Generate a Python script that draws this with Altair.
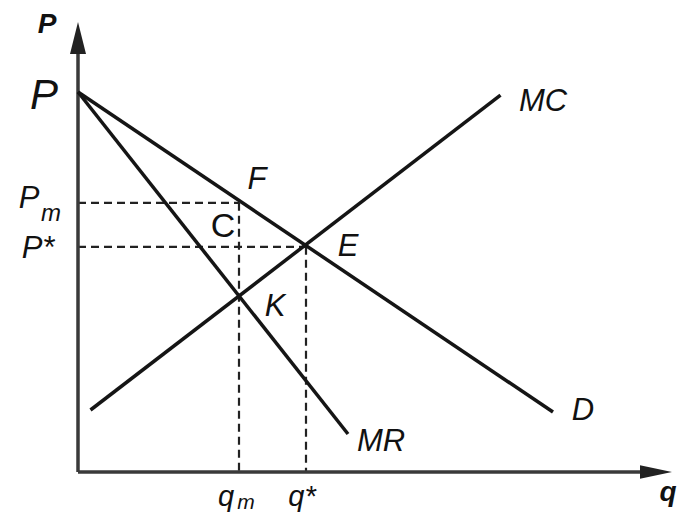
import altair as alt
import pandas as pd

# ---- data (economic units: q on x, P on y) ----
D_q = [0.0, 9.5]
D_P = [9.5, 1.5]
MR_q = [0.0, 5.4]
MR_P = [9.5, 0.95]
MC_q = [0.25, 8.45]
MC_P = [1.55, 9.42]

qm, Pm = 3.22, 6.73
qs, Ps = 4.56, 5.63

# axes
yaxis_q = [0.0, 0.0]
yaxis_P = [0.0, 10.5]
xaxis_q = [0.0, 11.3]
xaxis_P = [0.0, 0.0]
yarrow = (0.0, 10.85)
xarrow = (11.56, 0.0)

# label arrays
it_text = ["P", "P", "m", "P*", "F", "E", "K", "MC", "D", "MR", "q", "m", "q*"]
it_q =    [-0.68, -0.98, -0.54, -0.80, 3.58, 5.40, 3.94, 9.30, 10.10, 6.06, 2.96, 3.36, 4.48]
it_P =    [9.08, 6.60, 6.28, 5.35, 7.08, 5.40, 3.90, 9.02, 1.30, 0.53, -0.86, -0.93, -0.86]
it_size = [42, 31, 24, 31, 31, 31, 31, 31, 31, 31, 29, 21, 29]

up_text = ["C"]
up_q = [2.90]
up_P = [5.88]
up_size = [34]

bd_text = ["P", "q"]
bd_q = [-0.62, 11.80]
bd_P = [10.98, -0.72]
bd_size = [28, 28]

# ---- build tables ----
solid = pd.DataFrame({
    "series": ["D"] * 2 + ["MR"] * 2 + ["MC"] * 2,
    "q": D_q + MR_q + MC_q,
    "P": D_P + MR_P + MC_P,
})
axes = pd.DataFrame({
    "series": ["y"] * 2 + ["x"] * 2,
    "q": yaxis_q + xaxis_q,
    "P": yaxis_P + xaxis_P,
})
dashed = pd.DataFrame({
    "series": ["pm"] * 2 + ["qm"] * 2 + ["ps"] * 2 + ["qs"] * 2,
    "q": [0, qm, qm, qm, 0, qs, qs, qs],
    "P": [Pm, Pm, Pm, 0, Ps, Ps, Ps, 0],
})

xs = alt.Scale(domain=[-1.4, 11.98], nice=False, zero=False)
ys = alt.Scale(domain=[-1.05, 11.6], nice=False, zero=False)
X = alt.X("q:Q", scale=xs, axis=None)
Y = alt.Y("P:Q", scale=ys, axis=None)

solid_l = alt.Chart(solid).mark_line(color="#151515", strokeWidth=3.5, clip=False).encode(
    x=X, y=Y, detail="series:N")
axes_l = alt.Chart(axes).mark_line(color="#3a3a3a", strokeWidth=3.5, clip=False).encode(
    x=X, y=Y, detail="series:N")
dash_l = alt.Chart(dashed).mark_line(color="#222222", strokeWidth=2.2, strokeDash=[8, 5], clip=False).encode(
    x=X, y=Y, detail="series:N")

ya = alt.Chart(pd.DataFrame({"q": [yarrow[0]], "P": [yarrow[1]]})).mark_point(
    shape="M0,-1L0.5,1L-0.5,1Z", size=1024, filled=True, opacity=1, color="#222222").encode(x=X, y=Y)
xa = alt.Chart(pd.DataFrame({"q": [xarrow[0]], "P": [xarrow[1]]})).mark_point(
    shape="M1,0L-1,-0.42L-1,0.42Z", size=1024, filled=True, opacity=1, color="#222222").encode(x=X, y=Y)

def texts(t, q, p, s, style, weight):
    df = pd.DataFrame({"t": t, "q": q, "P": p, "s": s})
    return alt.Chart(df).mark_text(
        font="Liberation Sans", fontStyle=style, fontWeight=weight,
        align="center", baseline="alphabetic", color="#111111", clip=False
    ).encode(x=X, y=Y, text="t:N", size=alt.Size("s:Q", scale=None, legend=None))

it_l = texts(it_text, it_q, it_P, it_size, "italic", "normal")
up_l = texts(up_text, up_q, up_P, up_size, "normal", "normal")
bd_l = texts(bd_text, bd_q, bd_P, bd_size, "italic", "bold")

chart = alt.layer(dash_l, axes_l, solid_l, ya, xa, it_l, up_l, bd_l).properties(
    width=669, height=506, padding=0,
    autosize=alt.AutoSizeParams(type="none"),
    background="white",
).configure_view(stroke=None)

chart.save("out.html", embed_options={"renderer": "svg", "actions": False})
